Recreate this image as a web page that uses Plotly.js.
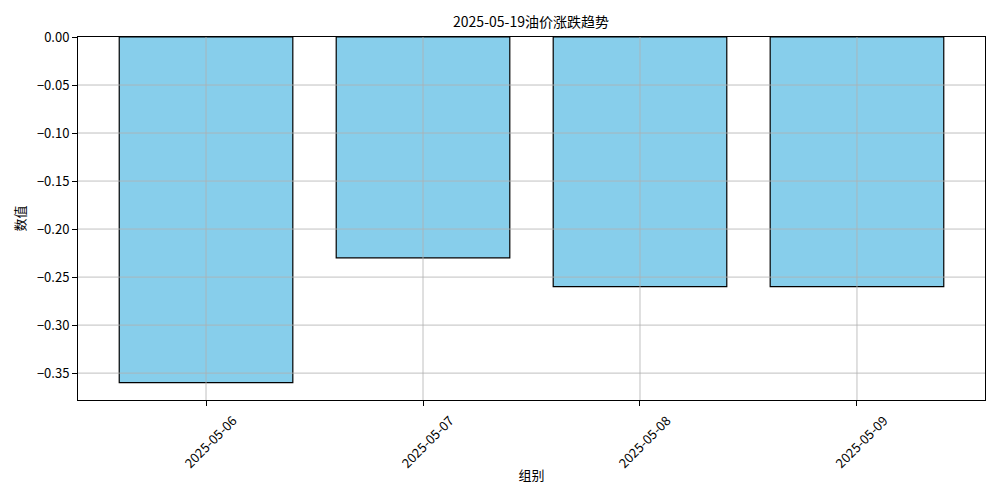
<!DOCTYPE html>
<html>
<head>
<meta charset="utf-8">
<script src="https://cdn.plot.ly/plotly-3.0.1.min.js"></script>
<style>html,body{margin:0;padding:0;background:#fff;}#chart{width:1000px;height:484px;}</style>
</head>
<body>
<div id="chart"></div>
<script>
const categories = ["2025-05-06", "2025-05-07", "2025-05-08", "2025-05-09"];
const values = [-0.36, -0.23, -0.26, -0.26];
const yTicks = [0.00, -0.05, -0.10, -0.15, -0.20, -0.25, -0.30, -0.35];
const chartTitle = "2025-05-19油价涨跌趋势";
const xTitle = "组别";
const yTitle = "数值";

const font = '"Noto Sans CJK SC", "DejaVu Sans", sans-serif';
const xIdx = categories.map((_, i) => i);

const trace = {
  type: 'bar',
  x: xIdx,
  y: values,
  width: 0.8,
  marker: { color: '#87CEEB', line: { color: '#000000', width: 1.2 } },
  hoverinfo: 'skip'
};

// matplotlib draws grid lines above the bar patches
const gridStyle = { color: '#b0b0b0', width: 0.8 };
const shapes = [
  ...xIdx.map(v => ({ type: 'line', layer: 'above', xref: 'x', yref: 'paper', x0: v, x1: v, y0: 0, y1: 1, line: gridStyle })),
  ...yTicks.filter(v => v !== 0).map(v => ({ type: 'line', layer: 'above', xref: 'paper', yref: 'y', x0: 0, x1: 1, y0: v, y1: v, line: gridStyle }))
];

const layout = {
  width: 1000, height: 484,
  margin: { l: 78, r: 15, t: 37, b: 84 },
  paper_bgcolor: '#ffffff', plot_bgcolor: '#ffffff',
  font: { family: font, size: 13, color: '#000' },
  title: { text: chartTitle, x: 0.531, xanchor: 'center', y: 0.955, yanchor: 'middle', font: { family: font, size: 14, color: '#000' } },
  showlegend: false,
  bargap: 0,
  shapes: shapes,
  xaxis: {
    range: [-0.59, 3.59],
    tickmode: 'array', tickvals: xIdx, ticktext: categories,
    tickangle: -45, ticklabelshift: 27, ticklabelstandoff: 2,
    ticks: 'outside', ticklen: 5, tickcolor: '#000', tickwidth: 1,
    showgrid: false,
    showline: true, linecolor: '#000', linewidth: 1, mirror: true,
    zeroline: false, layer: 'above traces',
    tickfont: { family: font, size: 13, color: '#000' },
    title: { text: xTitle, font: { family: font, size: 13, color: '#000' }, standoff: 4 }
  },
  yaxis: {
    range: [-0.378, 0],
    tickmode: 'array', tickvals: yTicks, tickformat: '.2f',
    ticks: 'outside', ticklen: 5, tickcolor: '#000', tickwidth: 1,
    showgrid: false,
    showline: true, linecolor: '#000', linewidth: 1, mirror: true,
    zeroline: false, layer: 'above traces',
    tickfont: { family: font, size: 13, color: '#000' },
    title: { text: yTitle, font: { family: font, size: 13, color: '#000' }, standoff: 8 }
  }
};

Plotly.newPlot('chart', [trace], layout, { displayModeBar: false, staticPlot: true });
</script>
</body>
</html>
